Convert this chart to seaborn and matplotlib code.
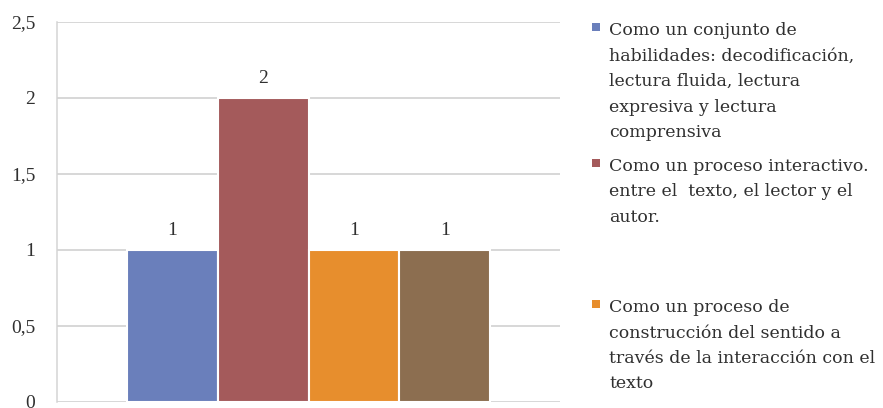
import matplotlib
matplotlib.use("Agg")
import matplotlib.pyplot as plt
import pandas as pd
import seaborn as sns
from matplotlib.patches import Rectangle

# Number of answers for each way of understanding reading
values = [1, 2, 1, 1]
series_ids = ["s1", "s2", "s3", "s4"]
colors = ["#6a7fbb", "#a45a5b", "#e78e2d", "#8c6e50"]

tick_values = [0, 0.5, 1, 1.5, 2, 2.5]
tick_labels = ["0", "0,5", "1", "1,5", "2", "2,5"]

legend_lines = [
    ["Como un conjunto de", "habilidades: decodificación,", "lectura fluida, lectura",
     "expresiva y lectura", "comprensiva"],
    ["Como un proceso interactivo.", "entre el  texto, el lector y el", "autor."],
    ["Como un proceso de", "construcción del sentido a",
     "través de la interacción con el", "texto"],
]

sns.set_theme(style="white")
plt.rcParams["font.family"] = ["Liberation Serif", "DejaVu Serif"]

TEXT = "#303030"
GRID = "#d4d4d4"
W, H = 883, 408

df = pd.DataFrame({"grupo": [""] * len(values), "serie": series_ids, "valor": values})

fig = plt.figure(figsize=(W / 100, H / 100), dpi=100)
ax = fig.add_axes([57 / W, (H - 401.7) / H, 503 / W, 380 / H])

sns.barplot(data=df, x="grupo", y="valor", hue="serie", palette=colors,
            width=0.722, gap=0, saturation=1, edgecolor="white", linewidth=1.5,
            legend=False, ax=ax)

ax.set_xlim(-0.5, 0.5)
ax.set_ylim(0, 2.5)
ax.set_yticks(tick_values)
ax.set_yticklabels(tick_labels, fontsize=14, color=TEXT)
ax.set_xticks([])
ax.set_xlabel("")
ax.set_ylabel("")
ax.yaxis.grid(True, color=GRID, linewidth=1.3)
ax.set_axisbelow(True)
ax.tick_params(axis="y", length=6.5, width=1.1, color=GRID, pad=9)
for side in ["top", "right", "bottom"]:
    ax.spines[side].set_visible(False)
ax.spines["left"].set_color(GRID)
ax.spines["left"].set_linewidth(1.1)

for cont in ax.containers:
    ax.bar_label(cont, fmt="%g", padding=8, fontsize=14, color=TEXT)

# Legend on the right: colour square plus wrapped description
first_baselines = [35, 171, 312]
line_step = 25.5
for lines, base, col in zip(legend_lines, first_baselines, colors):
    fig.add_artist(Rectangle((592 / W, (H - base + 4) / H), 8 / W, 8 / H,
                             transform=fig.transFigure, facecolor=col,
                             edgecolor="none"))
    for i, line in enumerate(lines):
        fig.text(609 / W, (H - base - i * line_step) / H, line, fontsize=12.5,
                 family="DejaVu Serif", color=TEXT, ha="left", va="baseline")

fig.savefig("out.png", dpi=100, facecolor="white")
